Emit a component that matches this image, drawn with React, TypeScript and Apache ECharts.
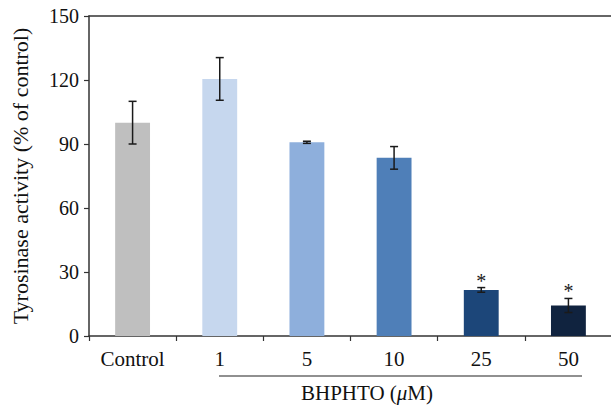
import React, { useEffect, useRef } from "react";
import * as echarts from "echarts";

const categories = ["Control", "1", "5", "10", "25", "50"];
const means = [100, 120.5, 90.8, 83.5, 21.6, 14.3];
const errors = [10, 10, 0.5, 5.3, 1.1, 3.3];
const significant = [false, false, false, false, true, true];
const barColors = ["#bfbfbf", "#c6d7ee", "#8eafdc", "#4f7fb8", "#1c4679", "#10233f"];
const yTitle = "Tyrosinase activity (% of control)";

const FONT = "Liberation Serif, Times New Roman, DejaVu Serif, serif";
const AXIS_COLOR = "#333333";

export default function App() {
  const ref = useRef<HTMLDivElement>(null);
  useEffect(() => {
    if (!ref.current) return;
    const chart = echarts.init(ref.current, undefined, { renderer: "svg" });
    chart.setOption({
      animation: false,
      textStyle: { fontFamily: FONT },
      grid: {
        left: 89,
        top: 16,
        right: -1,
        bottom: 70,
        containLabel: false,
        outerBoundsMode: "none",
      },
      xAxis: [
        {
          type: "category",
          data: categories,
          boundaryGap: true,
          axisLine: { show: true, lineStyle: { color: AXIS_COLOR, width: 1.5 } },
          axisTick: { show: true, length: 5, lineStyle: { color: AXIS_COLOR, width: 1.2 } },
          axisLabel: { color: "#111", fontFamily: FONT, fontSize: 21, margin: 12 },
        },
        {
          type: "value",
          position: "top",
          min: 0,
          max: 1,
          axisLine: { show: true, lineStyle: { color: AXIS_COLOR, width: 1.5 } },
          axisTick: { show: false },
          axisLabel: { show: false },
          splitLine: { show: false },
        },
      ],
      yAxis: {
        type: "value",
        min: 0,
        max: 150,
        interval: 30,
        name: yTitle,
        nameLocation: "middle",
        nameGap: 58,
        nameTextStyle: { color: "#111", fontFamily: FONT, fontSize: 22 },
        axisLine: { show: true, lineStyle: { color: AXIS_COLOR, width: 1.5 } },
        axisTick: { show: true, length: 5, lineStyle: { color: AXIS_COLOR, width: 1.2 } },
        axisLabel: { color: "#111", fontFamily: FONT, fontSize: 20, margin: 10 },
        splitLine: { show: false },
      },
      series: [
        {
          type: "bar",
          xAxisIndex: 0,
          barWidth: "40%",
          data: means.map((v, i) => ({ value: v, itemStyle: { color: barColors[i] } })),
        },
        {
          type: "custom",
          xAxisIndex: 0,
          z: 5,
          data: categories.map((c, i) => [i, means[i], errors[i], significant[i] ? 1 : 0]),
          renderItem: (params: any, api: any) => {
            const i = api.value(0);
            const m = api.value(1);
            const e = api.value(2);
            const sig = api.value(3);
            const top = api.coord([i, m + e]);
            const bot = api.coord([i, m - e]);
            const x = top[0];
            const hw = 4;
            const style = { stroke: "#1a1a1a", lineWidth: 1.5 };
            const children: any[] = [
              { type: "line", shape: { x1: x, y1: top[1], x2: x, y2: bot[1] }, style },
              { type: "line", shape: { x1: x - hw, y1: top[1], x2: x + hw, y2: top[1] }, style },
              { type: "line", shape: { x1: x - hw, y1: bot[1], x2: x + hw, y2: bot[1] }, style },
            ];
            if (sig) {
              children.push({
                type: "text",
                x: x,
                y: top[1] - 7,
                style: {
                  text: "*",
                  fill: "#1a1a1a",
                  fontFamily: FONT,
                  fontSize: 20,
                  align: "center",
                  verticalAlign: "middle",
                },
              });
            }
            return { type: "group", children };
          },
        },
      ],
      graphic: [
        {
          type: "line",
          shape: { x1: 219, y1: 376, x2: 582, y2: 376 },
          style: { stroke: "#222", lineWidth: 1.2 },
        },
        {
          type: "text",
          x: 367,
          y: 393,
          style: {
            text: "{n|BHPHTO (}{i|μ}{n|M)}",
            align: "center",
            verticalAlign: "middle",
            rich: {
              n: { fontFamily: FONT, fontSize: 21, fill: "#111" },
              i: { fontFamily: FONT, fontSize: 21, fontStyle: "italic", fill: "#111" },
            },
          },
        },
      ],
    });
    return () => chart.dispose();
  }, []);
  return (
    <div
      ref={ref}
      style={{ position: "fixed", left: 0, top: 0, width: 611, height: 406, background: "#fff" }}
    />
  );
}
